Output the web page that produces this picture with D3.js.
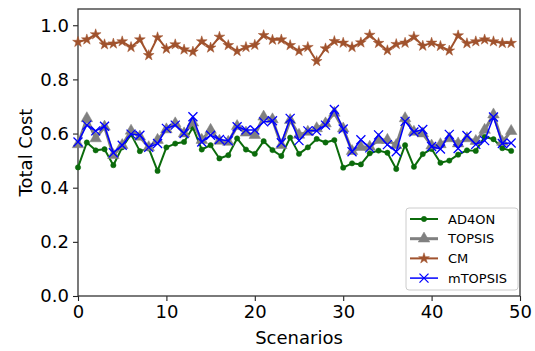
<!DOCTYPE html>
<html>
<head>
<meta charset="utf-8">
<script src="https://cdn.jsdelivr.net/npm/d3@7"></script>
<style>
  body { margin: 0; background: #fff; }
  svg text { font-family: "DejaVu Sans", sans-serif; fill: #000; }
</style>
</head>
<body>
<div id="chart"></div>
<script>
// values, scenarios 0..49
var ad4on = [0.475, 0.567, 0.538, 0.542, 0.483, 0.549, 0.597, 0.535, 0.545, 0.462,
             0.549, 0.563, 0.569, 0.622, 0.541, 0.557, 0.508, 0.520, 0.582, 0.541,
             0.525, 0.572, 0.539, 0.517, 0.585, 0.525, 0.549, 0.580, 0.567, 0.576,
             0.474, 0.490, 0.486, 0.527, 0.537, 0.529, 0.469, 0.557, 0.477, 0.524,
             0.543, 0.492, 0.500, 0.522, 0.538, 0.536, 0.588, 0.579, 0.546, 0.536];
var topsis = [0.560, 0.656, 0.582, 0.625, 0.520, 0.557, 0.610, 0.588, 0.549, 0.576,
              0.615, 0.637, 0.600, 0.640, 0.576, 0.613, 0.573, 0.569, 0.627, 0.603,
              0.594, 0.662, 0.652, 0.557, 0.649, 0.595, 0.606, 0.619, 0.637, 0.676,
              0.618, 0.535, 0.550, 0.551, 0.576, 0.576, 0.557, 0.656, 0.606, 0.600,
              0.555, 0.560, 0.582, 0.563, 0.582, 0.572, 0.613, 0.670, 0.569, 0.609];
var cm = [0.938, 0.947, 0.966, 0.929, 0.932, 0.940, 0.919, 0.947, 0.889, 0.955,
          0.913, 0.929, 0.910, 0.902, 0.940, 0.917, 0.957, 0.926, 0.904, 0.919,
          0.927, 0.963, 0.946, 0.947, 0.926, 0.905, 0.919, 0.867, 0.914, 0.941,
          0.935, 0.919, 0.936, 0.964, 0.934, 0.907, 0.930, 0.935, 0.957, 0.924,
          0.935, 0.923, 0.906, 0.962, 0.933, 0.940, 0.947, 0.940, 0.934, 0.934];
var mtopsis = [0.569, 0.631, 0.610, 0.627, 0.529, 0.557, 0.598, 0.594, 0.549, 0.563,
               0.619, 0.631, 0.600, 0.662, 0.569, 0.594, 0.578, 0.573, 0.625, 0.613,
               0.613, 0.643, 0.647, 0.566, 0.656, 0.574, 0.610, 0.610, 0.631, 0.689,
               0.617, 0.533, 0.577, 0.547, 0.595, 0.559, 0.533, 0.645, 0.606, 0.615,
               0.552, 0.543, 0.597, 0.545, 0.593, 0.560, 0.574, 0.661, 0.563, 0.565];
var xTicks = [0, 10, 20, 30, 40, 50];
var yTicks = [0.0, 0.2, 0.4, 0.6, 0.8, 1.0];

var width = 535, height = 351;
var margin = { top: 9, right: 15, bottom: 55, left: 78 };
var w = width - margin.left - margin.right,
    h = height - margin.top - margin.bottom;

var svg = d3.select("#chart").append("svg")
    .attr("width", width)
    .attr("height", height);

var g = svg.append("g")
    .attr("transform", "translate(" + margin.left + "," + margin.top + ")");

var x = d3.scaleLinear().domain([0, 50]).range([0, w]);
var y = d3.scaleLinear().domain([0, 1.06]).range([h, 0]);

// axes
var xAxis = g.append("g")
    .attr("transform", "translate(0," + h + ")")
    .call(d3.axisBottom(x).tickValues(xTicks).tickFormat(d3.format("d")).tickSizeOuter(0).tickSize(5).tickPadding(4));
var yAxis = g.append("g")
    .call(d3.axisLeft(y).tickValues(yTicks).tickFormat(d3.format(".1f")).tickSizeOuter(0).tickSize(5).tickPadding(4));
[xAxis, yAxis].forEach(function (a) {
    a.select(".domain").remove();
    a.selectAll("line").attr("stroke", "#222").attr("stroke-width", 1.1);
    a.selectAll("text").style("font-size", "18px").style("font-family", "DejaVu Sans");
});

// frame
g.append("rect")
    .attr("width", w).attr("height", h)
    .attr("fill", "none").attr("stroke", "#333").attr("stroke-width", 1.3);

g.append("text")
    .attr("x", w / 2).attr("y", h + 48)
    .attr("text-anchor", "middle")
    .style("font-size", "18px")
    .text("Scenarios");
g.append("text")
    .attr("transform", "translate(-46," + (h / 2) + ") rotate(-90)")
    .attr("text-anchor", "middle")
    .style("font-size", "18px")
    .text("Total Cost");

var series = [
    { name: "AD4ON", values: ad4on, color: "#0b6b0b", lw: 2, marker: "circle" },
    { name: "TOPSIS", values: topsis, color: "#808080", lw: 3, marker: "triangle" },
    { name: "CM", values: cm, color: "#a0522d", lw: 2, marker: "star" },
    { name: "mTOPSIS", values: mtopsis, color: "#0000ff", lw: 1.5, marker: "x" }
];

var line = d3.line()
    .x(function (d, i) { return x(i); })
    .y(function (d) { return y(d); });

function markerPath(type) {
    if (type === "circle") return d3.symbol().type(d3.symbolCircle).size(22)();
    if (type === "triangle") return d3.symbol().type(d3.symbolTriangle).size(58)();
    if (type === "star") return d3.symbol().type(d3.symbolStar).size(36)();
    return "M-4.5,-4.5L4.5,4.5M-4.5,4.5L4.5,-4.5";
}

function drawMarker(sel, s) {
    sel.append("path")
        .attr("d", markerPath(s.marker))
        .attr("fill", s.marker === "x" ? "none" : s.color)
        .attr("stroke", s.color)
        .attr("stroke-width", s.marker === "x" ? 1.3 : 0.5);
}

series.forEach(function (s) {
    var sg = g.append("g");
    sg.append("path")
        .datum(s.values)
        .attr("fill", "none")
        .attr("stroke", s.color)
        .attr("stroke-width", s.lw)
        .attr("stroke-linejoin", "round")
        .attr("d", line);
    sg.selectAll("g.m")
        .data(s.values)
        .enter().append("g")
        .attr("class", "m")
        .attr("transform", function (d, i) { return "translate(" + x(i) + "," + y(d) + ")"; })
        .each(function () { drawMarker(d3.select(this), s); });
});

// legend
var lg = g.append("g").attr("transform", "translate(" + (w - 114) + "," + (h - 88) + ")");
lg.append("rect")
    .attr("width", 112).attr("height", 82)
    .attr("rx", 3).attr("ry", 3)
    .attr("fill", "#fff").attr("fill-opacity", 0.8)
    .attr("stroke", "#ccc").attr("stroke-width", 1);
series.forEach(function (s, i) {
    var row = lg.append("g").attr("transform", "translate(0," + (11 + i * 19.7) + ")");
    row.append("line")
        .attr("x1", 4).attr("x2", 32)
        .attr("stroke", s.color).attr("stroke-width", s.lw);
    var m = row.append("g").attr("transform", "translate(18,0)");
    drawMarker(m, s);
    row.append("text")
        .attr("x", 42).attr("y", 0)
        .attr("dy", "0.36em")
        .style("font-size", "13px")
        .text(s.name);
});
</script>
</body>
</html>
